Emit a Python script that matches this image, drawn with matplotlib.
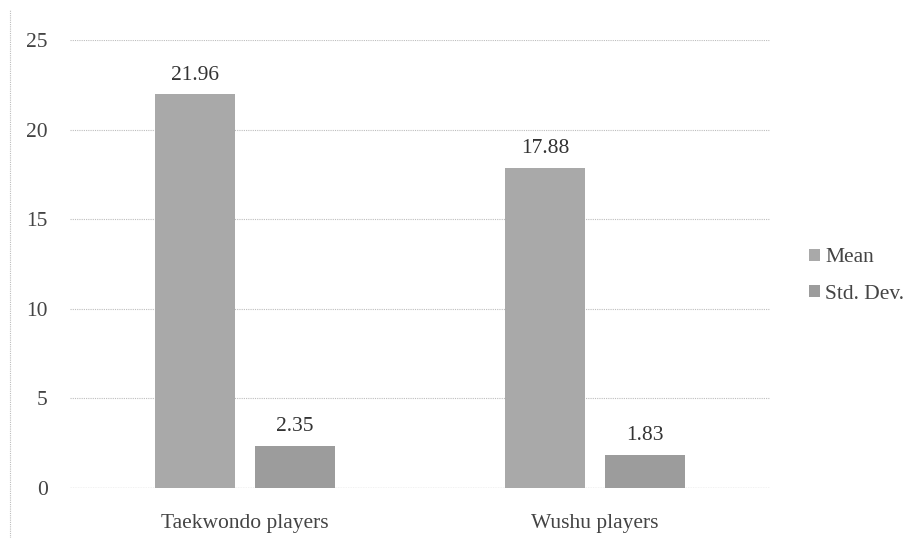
import matplotlib
matplotlib.use("Agg")
import matplotlib.pyplot as plt
from matplotlib.lines import Line2D
from matplotlib.patches import Patch
import numpy as np

categories = ["Taekwondo players", "Wushu players"]
series_names = ["Mean", "Std. Dev."]
mean_values = [21.96, 17.88]
std_values = [2.35, 1.83]
y_ticks = [0, 5, 10, 15, 20, 25]

plt.rcParams["font.family"] = ["Liberation Serif", "DejaVu Serif"]

fig = plt.figure(figsize=(9.22, 5.38), dpi=100)
ax = fig.add_axes([70 / 922, 1 - 488 / 538, 700 / 922, 448 / 538])

x = np.arange(len(categories))
width = 0.229
offset = 0.143
colors = ["#a9a9a9", "#9c9c9c"]
fs = 15.5

bars_mean = ax.bar(x - offset, mean_values, width, color=colors[0], zorder=3)
bars_std = ax.bar(x + offset, std_values, width, color=colors[1], zorder=3)

for bars, vals in ((bars_mean, mean_values), (bars_std, std_values)):
    for b, v in zip(bars, vals):
        ax.annotate(f"{v:.2f}", (b.get_x() + b.get_width() / 2, v),
                    xytext=(0, 7), textcoords="offset points",
                    ha="center", va="bottom", fontsize=fs, color="#333333")

ax.set_xlim(-0.5, 1.5)
ax.set_ylim(0, 25)
ax.set_yticks(y_ticks)
ax.set_yticklabels([str(t) for t in y_ticks], fontsize=fs, color="#444444")
ax.set_xticks(x)
ax.set_xticklabels(categories, fontsize=fs, color="#444444")
ax.tick_params(axis="x", length=0, pad=19)
ax.tick_params(axis="y", length=0, pad=16)

ax.grid(axis="y", color="#bdbdbd", linestyle=(0, (1, 1)), linewidth=0.8, zorder=0)
for s in ax.spines.values():
    s.set_visible(False)
ax.axhline(0, color="#b0b0b0", linestyle=(0, (1, 1)), linewidth=0.9, zorder=2)

# dotted frame edge on the left of the chart area
fig.add_artist(Line2D([10 / 922, 10 / 922], [0, 1 - 10 / 538],
                      transform=fig.transFigure, color="#bdbdbd",
                      linestyle=(0, (1, 1)), linewidth=0.8))

handles = [Patch(facecolor=colors[0]), Patch(facecolor=colors[1])]
fig.legend(handles, series_names, loc="center left",
           bbox_to_anchor=(794 / 922, 1 - 276 / 538), frameon=False,
           fontsize=fs, handlelength=0.5, handleheight=0.5,
           handletextpad=0.25, labelspacing=0.8, labelcolor="#444444",
           borderpad=0.2)

fig.savefig("out.png", dpi=100)
